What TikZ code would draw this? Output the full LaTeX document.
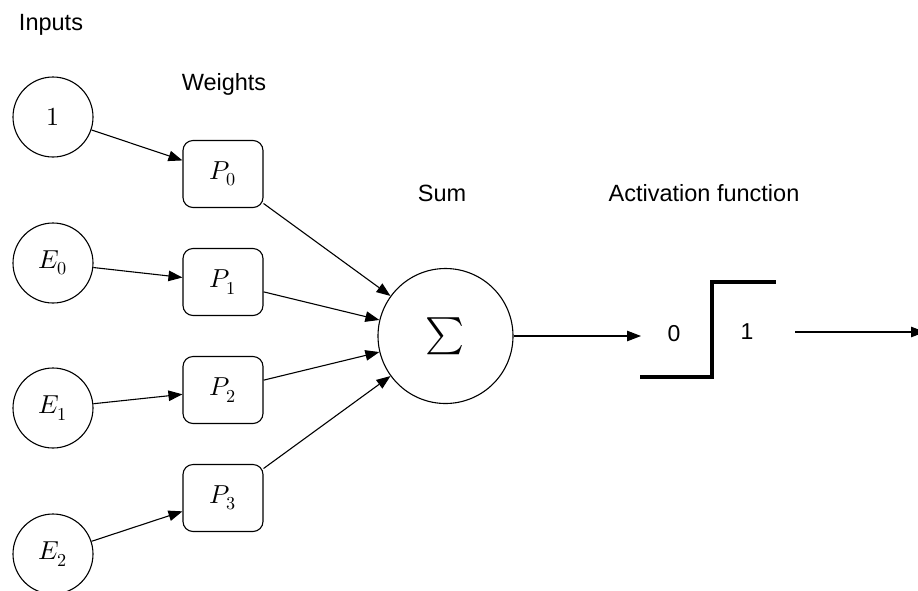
\documentclass[tikz,border=0pt]{standalone}
\usepackage{fontspec}
\usepackage{unicode-math}
\setmainfont{Liberation Sans}
\setmathfont{Latin Modern Math}
\usetikzlibrary{arrows.meta}
\tikzset{
  inputnode/.style={circle,draw,line width=1.1pt,minimum size=80pt,inner sep=0pt,font=\fontsize{26}{30}\selectfont},
  weightnode/.style={rectangle,rounded corners=10pt,draw,line width=1.1pt,minimum width=80pt,minimum height=67pt,inner sep=0pt,font=\fontsize{26}{30}\selectfont},
  sumnode/.style={circle,draw,line width=1.1pt,minimum size=135pt,inner sep=0pt},
  title/.style={font=\fontsize{23.5}{28}\selectfont,inner sep=0pt},
  num/.style={font=\fontsize{23}{28}\selectfont,inner sep=0pt},
  conn/.style={line width=1.1pt,-{Triangle[length=14pt,width=10.5pt]}},
  stepline/.style={line width=3.5pt}
}
\begin{document}
\begin{tikzpicture}[x=1pt,y=-1pt]
\useasboundingbox (0,0) rectangle (918,590);
% titles
\node[title] (tin) at (51,25) {Inputs};
\node[title] (tw) at (224,84) {Weights};
\node[title] (ts) at (442,193) {Sum};
\node[title] (ta) at (704,193) {Activation function};
% inputs
\node[inputnode] (i0) at (53,117) {$1$};
\node[inputnode] (e0) at (53,263) {$E_0$};
\node[inputnode] (e1) at (53,408) {$E_1$};
\node[inputnode] (e2) at (53,554) {$E_2$};
% weights
\node[weightnode] (p0) at (223,174) {$P_0$};
\node[weightnode] (p1) at (223,282) {$P_1$};
\node[weightnode] (p2) at (223,390) {$P_2$};
\node[weightnode] (p3) at (223,498) {$P_3$};
% sum
\node[sumnode] (sum) at (445.5,336) {\fontsize{37}{40}\selectfont$\textstyle\sum$};
% connectors
\draw[conn] (i0) -- (p0);
\draw[conn] (e0) -- (p1);
\draw[conn] (e1) -- (p2);
\draw[conn] (e2) -- (p3);
\draw[conn] (p0) -- (sum);
\draw[conn] (p1) -- (sum);
\draw[conn] (p2) -- (sum);
\draw[conn] (p3) -- (sum);
% activation
\coordinate (actin) at (641,336);
\draw[conn] (sum) -- (actin);
\draw[stepline] (640,377) -- (712,377) -- (712,282) -- (776,282);
\node[num] (zero) at (674,334) {0};
\node[num] (one) at (747,332) {1};
\coordinate (actout) at (795,332);
\coordinate (out) at (925,332);
\draw[conn] (actout) -- (out);
\end{tikzpicture}
\end{document}
